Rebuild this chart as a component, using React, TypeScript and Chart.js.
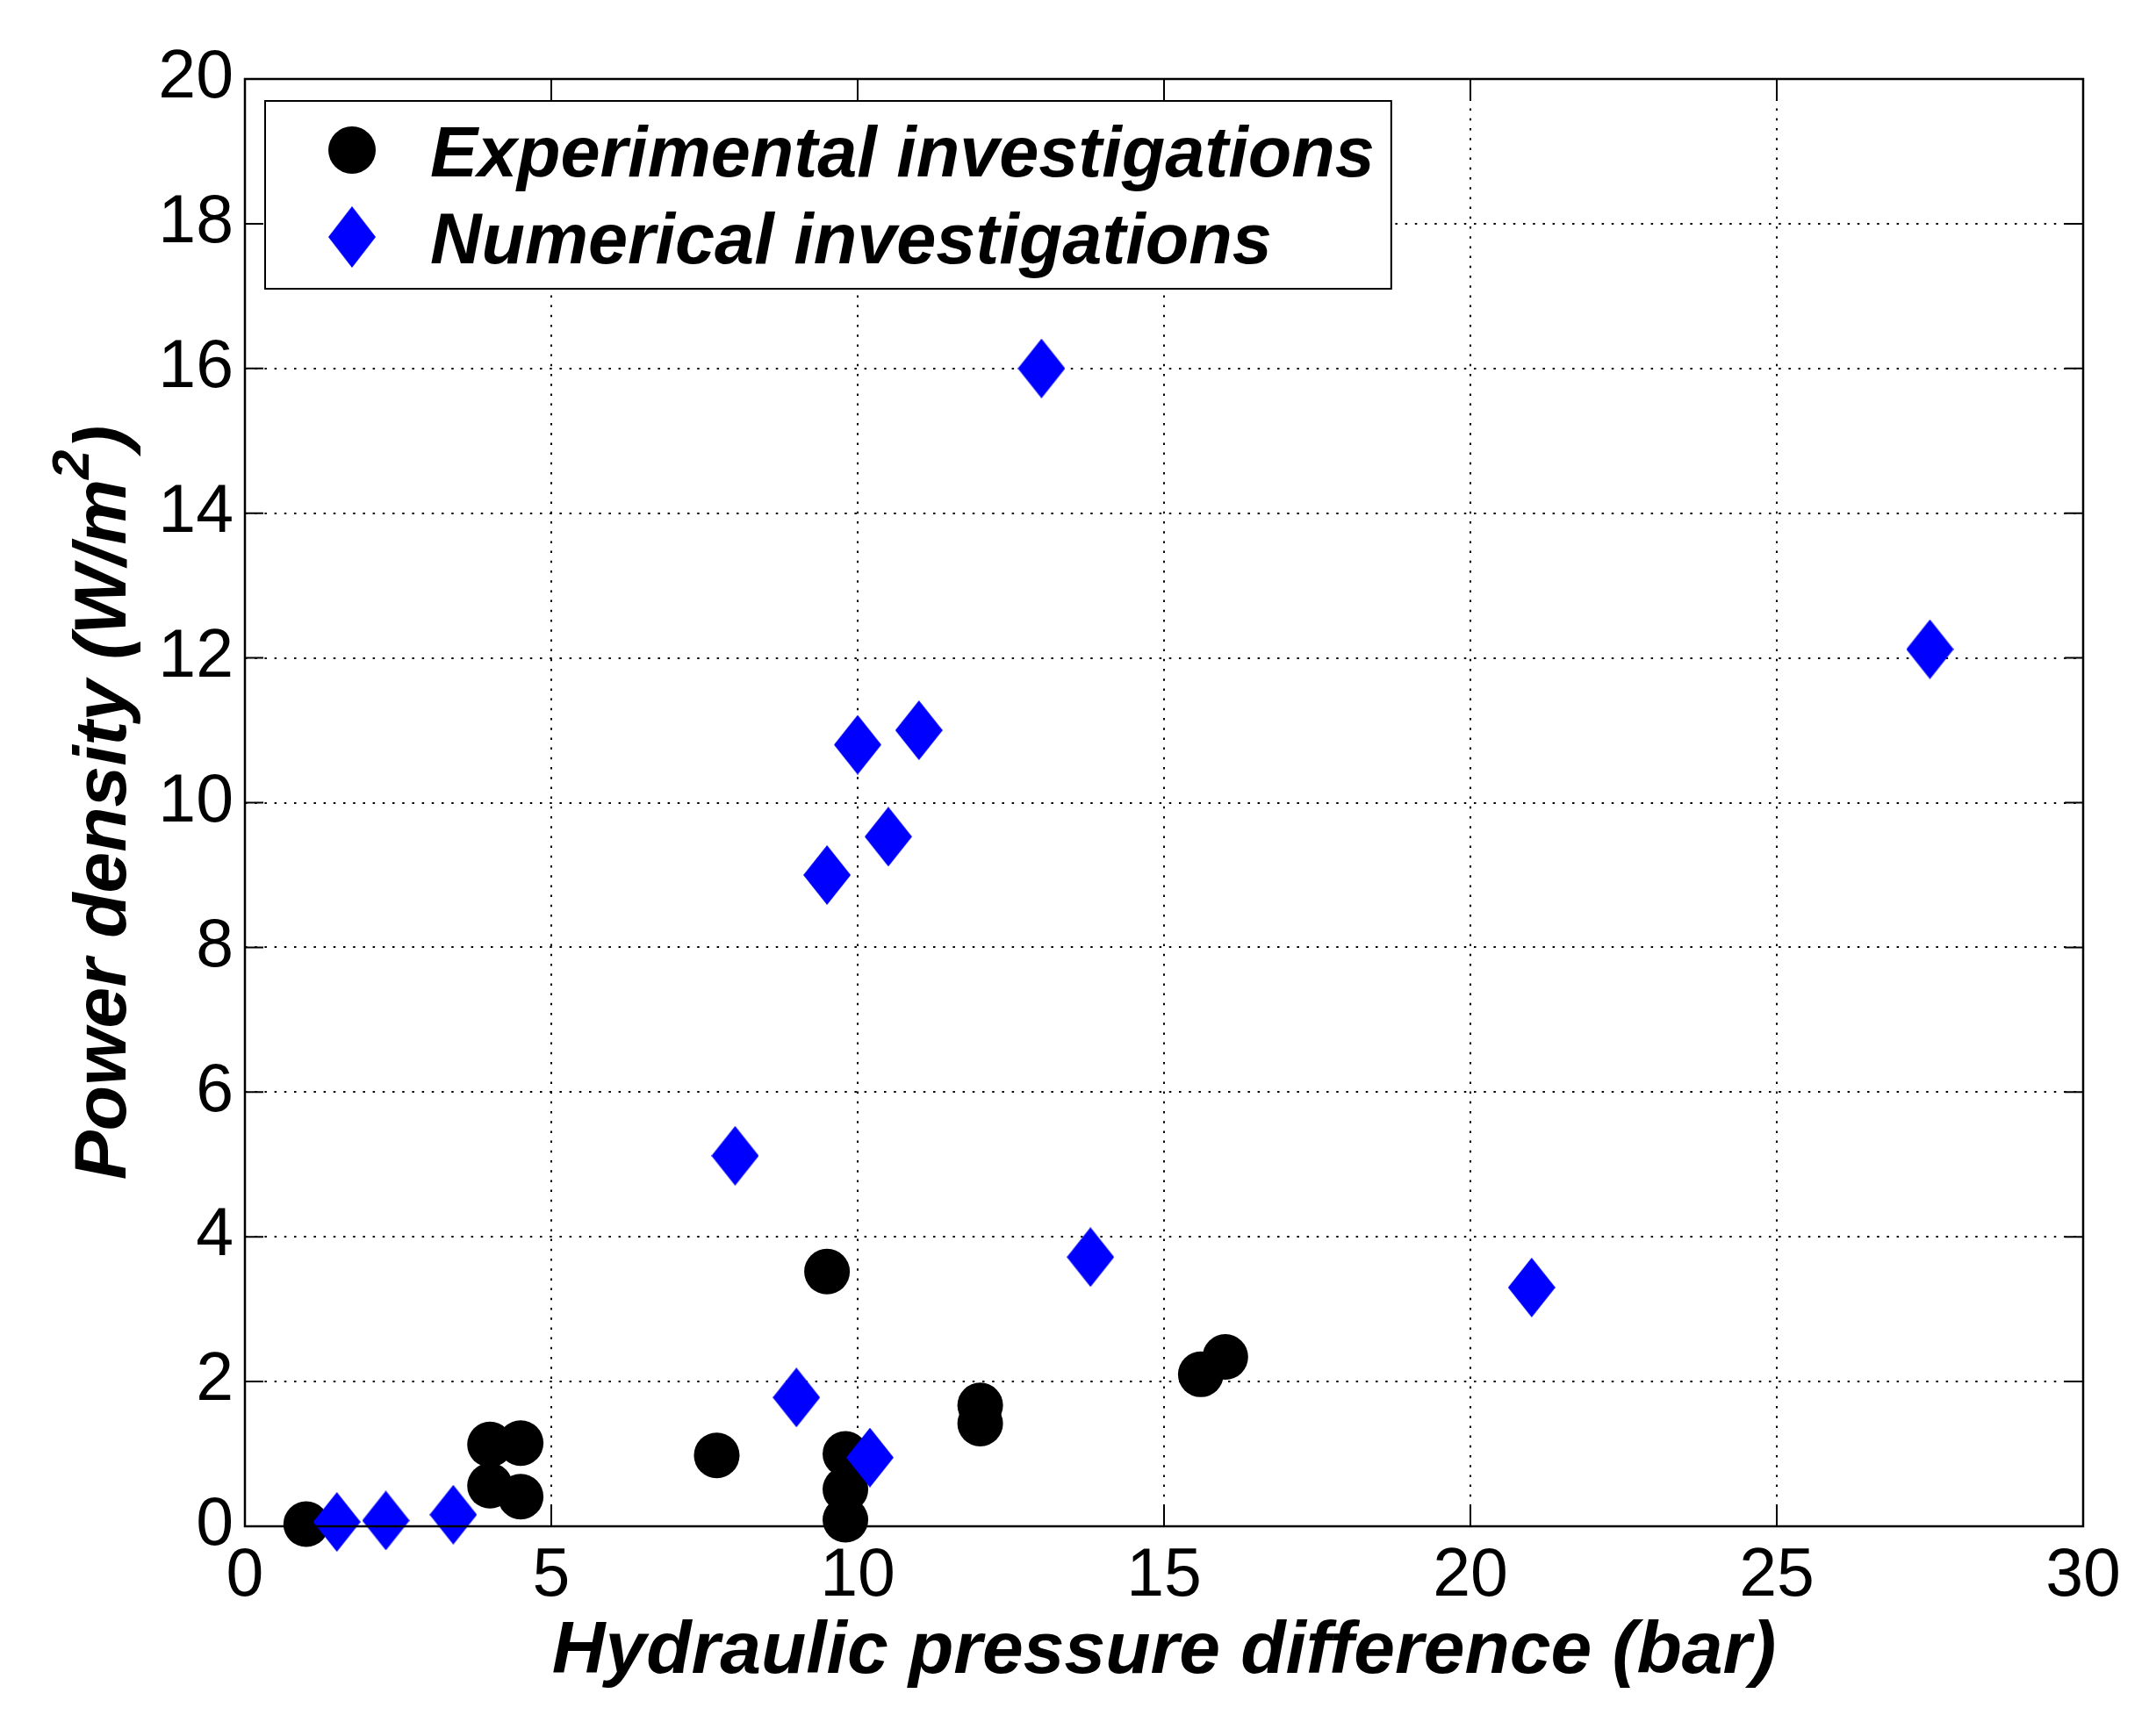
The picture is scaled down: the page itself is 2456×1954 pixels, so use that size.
import React, { useEffect, useRef } from "react";
import { Chart, registerables } from "chart.js";

Chart.register(...registerables);

// ---- data ----
const experimentalX = [1.0, 4.0, 4.5, 4.0, 4.5, 7.7, 9.5, 9.8, 9.8, 9.8, 12.0, 12.0, 15.6, 16.0];
const experimentalY = [0.03, 1.13, 1.15, 0.56, 0.41, 0.98, 3.52, 1.0, 0.51, 0.09, 1.67, 1.42, 2.1, 2.34];

const numericalX = [1.5, 2.3, 3.4, 8.0, 9.0, 9.5, 10.0, 10.2, 10.5, 11.0, 13.0, 13.8, 21.0, 27.5];
const numericalY = [0.06, 0.08, 0.16, 5.12, 1.78, 9.0, 10.8, 0.95, 9.53, 11.0, 16.0, 3.72, 3.3, 12.12];

const xTickValues = [0, 5, 10, 15, 20, 25, 30];
const yTickValues = [0, 2, 4, 6, 8, 10, 12, 14, 16, 18, 20];

const seriesLabels = ["Experimental investigations", "Numerical investigations"];
const xTitle = "Hydraulic pressure difference (bar)";
const yTitleMain = "Power density (W/m";
const yTitleSup = "2";
const yTitleEnd = ")";

const FONT = '"Liberation Sans", Arial, Helvetica, sans-serif';
const BLUE = "#0000ff";

function makeDiamond(w: number, h: number, color: string): HTMLCanvasElement {
  const c = document.createElement("canvas");
  c.width = w;
  c.height = h;
  const g = c.getContext("2d")!;
  g.fillStyle = color;
  g.beginPath();
  g.moveTo(w / 2, 0);
  g.lineTo(w, h / 2);
  g.lineTo(w / 2, h);
  g.lineTo(0, h / 2);
  g.closePath();
  g.fill();
  return c;
}

export default function App() {
  const ref = useRef<HTMLCanvasElement | null>(null);

  useEffect(() => {
    if (!ref.current) return;
    const diamond = makeDiamond(54, 68, BLUE);

    const frame = {
      id: "frameAndLegend",
      afterDatasetsDraw(chart: any) {
        const ctx = chart.ctx;
        const { left, right, top, bottom } = chart.chartArea;
        const xs = chart.scales.x;
        const ys = chart.scales.y;
        ctx.save();
        ctx.strokeStyle = "#000";
        ctx.lineWidth = 2.5;
        ctx.strokeRect(left, top, right - left, bottom - top);
        ctx.lineWidth = 2;
        ctx.beginPath();
        xTickValues.forEach((v) => {
          const px = xs.getPixelForValue(v);
          ctx.moveTo(px, bottom);
          ctx.lineTo(px, bottom - 23);
          ctx.moveTo(px, top);
          ctx.lineTo(px, top + 23);
        });
        yTickValues.forEach((v) => {
          const py = ys.getPixelForValue(v);
          ctx.moveTo(left, py);
          ctx.lineTo(left + 21, py);
          ctx.moveTo(right, py);
          ctx.lineTo(right - 21, py);
        });
        ctx.stroke();
        ctx.restore();
      },
      afterDraw(chart: any) {
        const ctx = chart.ctx;
        const { left, top, bottom } = chart.chartArea;
        ctx.save();
        // legend
        const lx = left + 23;
        const ly = top + 25;
        ctx.font = `italic bold 81px ${FONT}`;
        const tw = Math.max(...seriesLabels.map((s) => ctx.measureText(s).width));
        const textX = lx + 188;
        const bw = 188 + tw + 19;
        const bh = 214;
        ctx.fillStyle = "#fff";
        ctx.fillRect(lx, ly, bw, bh);
        ctx.strokeStyle = "#000";
        ctx.lineWidth = 2;
        ctx.strokeRect(lx, ly, bw, bh);
        const rows = [ly + 56, ly + 155];
        // markers
        ctx.fillStyle = "#000";
        ctx.beginPath();
        ctx.arc(lx + 99, rows[0], 27, 0, Math.PI * 2);
        ctx.fill();
        ctx.drawImage(diamond, lx + 99 - 27, rows[1] - 35, 54, 70);
        ctx.fillStyle = "#000";
        ctx.textBaseline = "alphabetic";
        ctx.textAlign = "left";
        seriesLabels.forEach((s, i) => ctx.fillText(s, textX, rows[i] + 30));

        // y-axis title with superscript
        const cy = (top + bottom) / 2;
        const mainFont = `italic bold 84px ${FONT}`;
        const supFont = `italic bold 60px ${FONT}`;
        ctx.font = mainFont;
        const w1 = ctx.measureText(yTitleMain).width;
        const w3 = ctx.measureText(yTitleEnd).width;
        ctx.font = supFont;
        const w2 = ctx.measureText(yTitleSup).width;
        const total = w1 + w2 + w3;
        ctx.translate(143, cy);
        ctx.rotate(-Math.PI / 2);
        let x0 = -total / 2;
        ctx.font = mainFont;
        ctx.fillText(yTitleMain, x0, 0);
        x0 += w1;
        ctx.font = supFont;
        ctx.fillText(yTitleSup, x0, -42);
        x0 += w2;
        ctx.font = mainFont;
        ctx.fillText(yTitleEnd, x0, 0);
        ctx.restore();
      },
    };

    const chart = new Chart(ref.current, {
      type: "scatter",
      data: {
        datasets: [
          {
            label: seriesLabels[0],
            data: experimentalX.map((x, i) => ({ x, y: experimentalY[i] })),
            pointStyle: "circle",
            pointRadius: 26,
            pointHoverRadius: 26,
            pointBackgroundColor: "#000",
            pointBorderWidth: 0,
            borderColor: "#000",
            backgroundColor: "#000",
            clip: false as any,
            order: 1,
          },
          {
            label: seriesLabels[1],
            data: numericalX.map((x, i) => ({ x, y: numericalY[i] })),
            pointStyle: diamond as any,
            pointRadius: 27,
            pointHoverRadius: 27,
            pointBackgroundColor: BLUE,
            pointBorderWidth: 0,
            borderColor: BLUE,
            backgroundColor: BLUE,
            clip: false as any,
            order: 0,
          },
        ],
      },
      options: {
        animation: false,
        responsive: false,
        devicePixelRatio: 1,
        layout: { padding: { left: 0, top: 90, right: 83, bottom: 0 } },
        plugins: {
          legend: { display: false },
          tooltip: { enabled: false },
          title: { display: false },
        },
        scales: {
          x: {
            type: "linear",
            min: 0,
            max: 30,
            afterBuildTicks: (s: any) => {
              s.ticks = xTickValues.map((v) => ({ value: v }));
            },
            afterFit: (s: any) => {
              s.height = 215;
            },
            ticks: {
              color: "#000",
              font: { family: FONT, size: 77, lineHeight: 1 },
              padding: 19,
              maxRotation: 0,
              autoSkip: false,
            },
            grid: { color: "#000", lineWidth: 2, drawTicks: false },
            border: { display: false, dash: [2.5, 8.7] },
            title: {
              display: true,
              text: xTitle,
              color: "#000",
              font: { family: FONT, size: 84, weight: "bold", style: "italic", lineHeight: 1 },
              padding: { top: 0, bottom: 29 },
            },
          },
          y: {
            type: "linear",
            min: 0,
            max: 20,
            afterBuildTicks: (s: any) => {
              s.ticks = yTickValues.map((v) => ({ value: v }));
            },
            afterFit: (s: any) => {
              s.width = 279;
            },
            ticks: {
              color: "#000",
              font: { family: FONT, size: 77, lineHeight: 1 },
              padding: 13,
              autoSkip: false,
            },
            grid: { color: "#000", lineWidth: 2, drawTicks: false },
            border: { display: false, dash: [2.5, 8.7] },
          },
        },
      },
      plugins: [frame],
    });
    return () => chart.destroy();
  }, []);

  return (
    <div style={{ position: "absolute", left: 0, top: 0, width: 2456, height: 1954, background: "#fff" }}>
      <canvas ref={ref} width={2456} height={1954} style={{ width: 2456, height: 1954, display: "block" }} />
    </div>
  );
}
